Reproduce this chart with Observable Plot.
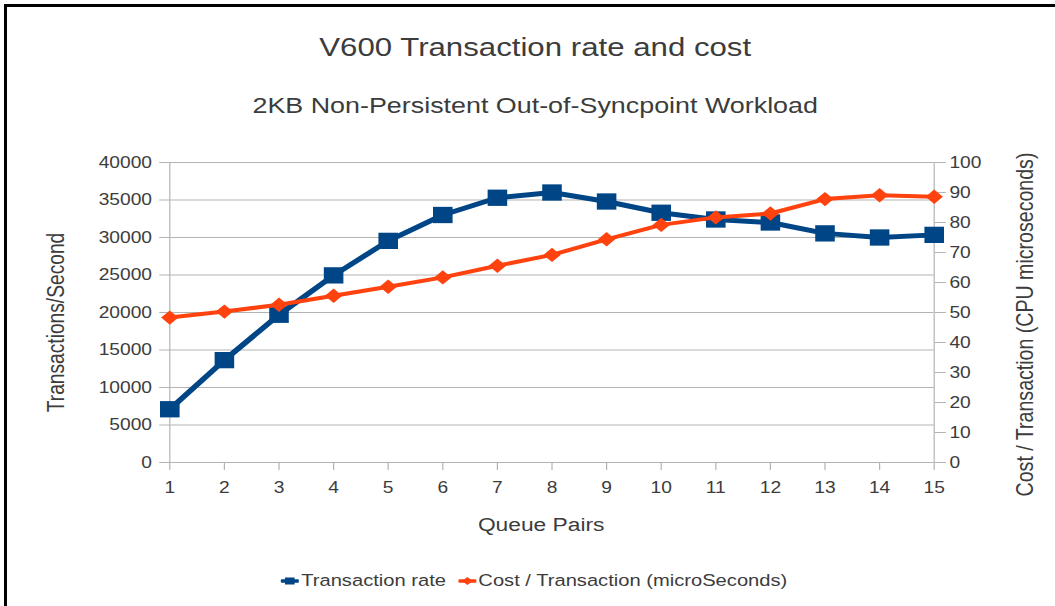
<!DOCTYPE html>
<html>
<head>
<meta charset="utf-8">
<script src="https://cdn.jsdelivr.net/npm/d3@7"></script>
<script src="https://cdn.jsdelivr.net/npm/@observablehq/plot@0.6"></script>
<style>
  html, body { margin: 0; padding: 0; background: #fff; }
  #page { position: relative; width: 1055px; height: 606px; overflow: hidden; background: #fff; }
  #borderTop { position: absolute; left: 4px; top: 4px; width: 1051px; height: 3px; background: #000; }
  #borderLeft { position: absolute; left: 4px; top: 4px; width: 3px; height: 602px; background: #000; }
  #stretch { position: absolute; left: 0; top: 0; width: 879px; height: 606px; transform: scaleX(1.2); transform-origin: 0 0;
             font-family: "Liberation Sans", Arial, sans-serif; color: #3c3c3c; }
  .title { position: absolute; left: 0; width: 892px; text-align: center; line-height: 1; white-space: nowrap; }
  #chart { position: absolute; left: 0; top: 130px; }
  #legend { position: absolute; left: 234px; top: 573px; font-size: 16.8px; line-height: 1; white-space: nowrap; display: flex; align-items: center; }
  #legend .item { display: flex; align-items: center; }
  #legend svg { display: block; }
</style>
</head>
<body>
<div id="page">
  <div id="stretch">
    <div class="title" id="title" style="top:34px;font-size:26px;"></div>
    <div class="title" id="subtitle" style="top:95px;font-size:22.4px;"></div>
    <div id="chart"></div>
    <div id="legend"></div>
  </div>
  <div id="borderTop"></div>
  <div id="borderLeft"></div>
</div>
<script>
const titleText = "V600 Transaction rate and cost";
const subtitleText = "2KB Non-Persistent Out-of-Syncpoint Workload";
const xLabel = "Queue Pairs";
const yLeftLabel = "Transactions/Second";
const yRightLabel = "Cost / Transaction (CPU microseconds)";
const seriesNames = ["Transaction rate", "Cost / Transaction (microSeconds)"];
const seriesColors = ["#004586", "#ff420e"];

const queuePairs = [1, 2, 3, 4, 5, 6, 7, 8, 9, 10, 11, 12, 13, 14, 15];
const transactionRate = [7100, 13650, 19700, 24950, 29550, 33000, 35300, 36000, 34800, 33300, 32400, 32000, 30550, 30000, 30350];
const costPerTransaction = [48.3, 50.3, 52.6, 55.6, 58.6, 61.7, 65.6, 69.2, 74.4, 79.2, 81.7, 83.0, 87.8, 89.1, 88.6];

const leftTicks = [0, 5000, 10000, 15000, 20000, 25000, 30000, 35000, 40000];
const rightTicks = [0, 10, 20, 30, 40, 50, 60, 70, 80, 90, 100];
const rightToLeft = 400; // 100 on the right axis == 40000 on the left axis

const rateData = queuePairs.map((q, i) => ({q, v: transactionRate[i]}));
const costData = queuePairs.map((q, i) => ({q, v: costPerTransaction[i] * rightToLeft}));

document.getElementById("title").textContent = titleText;
document.getElementById("subtitle").textContent = subtitleText;

const grid = "#b3b3b3";
const ink = "#3c3c3c";

const chart = Plot.plot({
  width: 879,
  height: 420,
  marginTop: 32,
  marginBottom: 88,
  marginLeft: 141,
  marginRight: 101,
  style: {fontFamily: "Liberation Sans, Arial, sans-serif", fontSize: "16px", color: ink, background: "transparent", overflow: "visible"},
  x: {domain: [1, 15]},
  y: {domain: [0, 40000]},
  marks: [
    Plot.gridY(leftTicks, {stroke: grid, strokeOpacity: 1}),
    Plot.ruleX([1, 15], {stroke: grid, strokeOpacity: 1}),
    Plot.axisX(queuePairs, {tickSize: 8, tickPadding: 11, stroke: grid, fill: ink, label: null, tickFormat: d3.format("d")}),
    Plot.axisY(leftTicks, {anchor: "left", tickSize: 8.3, tickPadding: 6.5, stroke: grid, fill: ink, label: null, tickFormat: d3.format("d")}),
    Plot.axisY(rightTicks.map(d => d * rightToLeft), {anchor: "right", tickSize: 9.2, tickPadding: 3.5, stroke: grid, fill: ink, label: null, tickFormat: d => d3.format("d")(d / rightToLeft)}),
    Plot.text([xLabel], {text: d => d, frameAnchor: "bottom", lineAnchor: "middle", dx: -9, dy: 62, fontSize: 19, fill: ink}),
    Plot.text([yLeftLabel], {text: d => d, frameAnchor: "left", textAnchor: "middle", lineAnchor: "middle", rotate: -90, dx: -94, dy: 10, fontSize: 19.2, fill: ink}),
    Plot.text([yRightLabel], {text: d => d, frameAnchor: "right", textAnchor: "middle", lineAnchor: "middle", rotate: -90, dx: 76, dy: 12, fontSize: 19.6, fill: ink}),
    Plot.line(rateData, {x: "q", y: "v", stroke: seriesColors[0], strokeWidth: 5}),
    Plot.dot(rateData, {x: "q", y: "v", symbol: "square", r: 9.2, fill: seriesColors[0], stroke: null}),
    Plot.line(costData, {x: "q", y: "v", stroke: seriesColors[1], strokeWidth: 4}),
    Plot.dot(costData, {x: "q", y: "v", symbol: "diamond2", r: 6.5, fill: seriesColors[1], stroke: null})
  ]
});
document.getElementById("chart").appendChild(chart);

// Legend
const legend = document.getElementById("legend");
const markerSvg = (i) => {
  const ns = "http://www.w3.org/2000/svg";
  const svg = document.createElementNS(ns, "svg");
  svg.setAttribute("width", 15);
  svg.setAttribute("height", 12);
  const line = document.createElementNS(ns, "line");
  line.setAttribute("x1", 1); line.setAttribute("x2", 14);
  line.setAttribute("y1", 6); line.setAttribute("y2", 6);
  line.setAttribute("stroke", seriesColors[i]);
  line.setAttribute("stroke-width", 3.5);
  line.setAttribute("stroke-linecap", "round");
  svg.appendChild(line);
  const shape = document.createElementNS(ns, "path");
  shape.setAttribute("d", i === 0 ? "M3.5,2.5H11.5V9.5H3.5Z" : "M7.5,2L12,6L7.5,10L3,6Z");
  shape.setAttribute("fill", seriesColors[i]);
  svg.appendChild(shape);
  return svg;
};
seriesNames.forEach((name, i) => {
  const item = document.createElement("div");
  item.className = "item";
  item.style.marginRight = i === 0 ? "10px" : "0";
  item.appendChild(markerSvg(i));
  const span = document.createElement("span");
  span.textContent = name;
  span.style.marginLeft = "2px";
  item.appendChild(span);
  legend.appendChild(item);
});
</script>
</body>
</html>
